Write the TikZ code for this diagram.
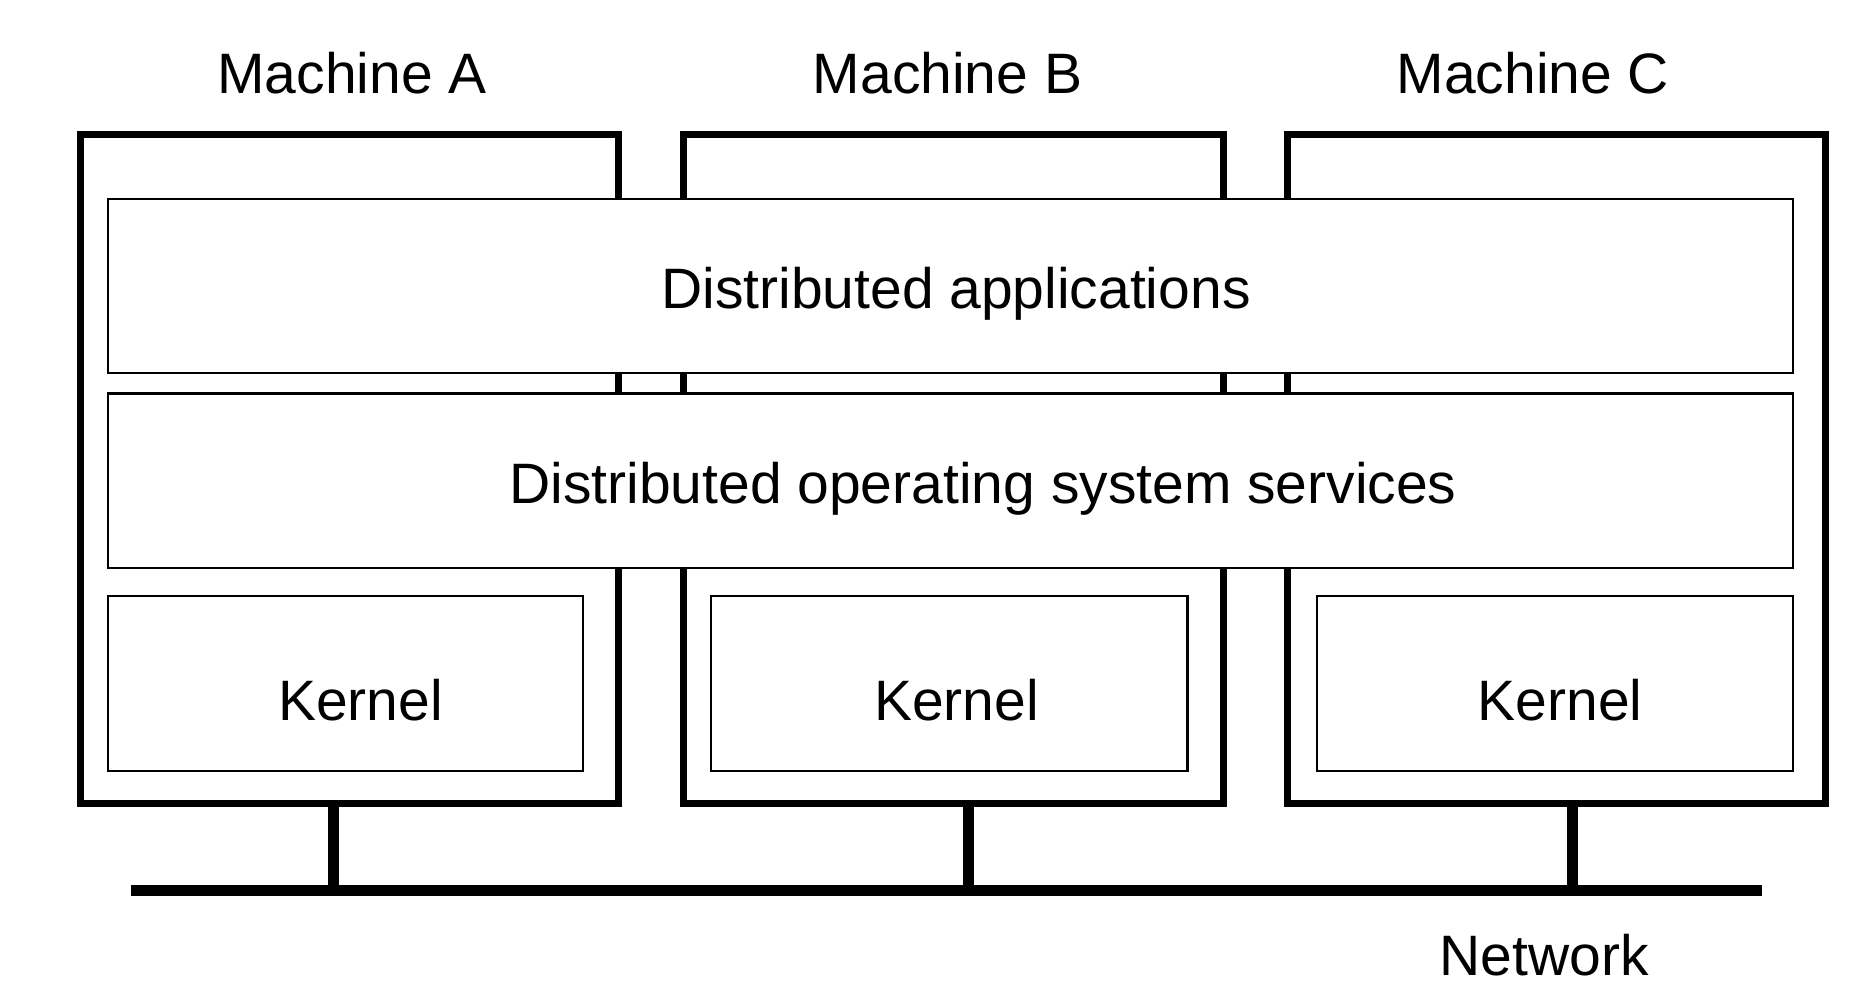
\documentclass[tikz,border=0pt]{standalone}
\usepackage{fontspec}
\setmainfont{Liberation Sans}
\begin{document}
\begin{tikzpicture}[x=1pt,y=-1pt,
  machine/.style={draw=black,line width=7pt,inner sep=0pt,outer sep=0pt},
  layer/.style={draw=black,fill=white,line width=2.5pt,inner sep=0pt,outer sep=0pt},
  lbl/.style={anchor=base,inner sep=0pt,font=\fontsize{57}{60}\selectfont},
  wire/.style={line width=11pt}]
\useasboundingbox[fill=white] (0,0) rectangle (1862,999);
% machines
\node[machine,minimum width=537.5pt,minimum height=669.5pt] (mA) at (349.25,468.75) {};
\node[machine,minimum width=540pt,minimum height=669.5pt] (mB) at (953,468.75) {};
\node[machine,minimum width=538pt,minimum height=669.5pt] (mC) at (1556,468.75) {};
% layers
\node[layer,minimum width=1685pt,minimum height=174pt] (apps) at (950.5,286) {};
\node[layer,minimum width=1685pt,minimum height=174.5pt] (os) at (950.5,480.75) {};
\node[layer,minimum width=475pt,minimum height=175pt] (kA) at (345.5,683.5) {};
\node[layer,minimum width=476.5pt,minimum height=175pt] (kB) at (949.25,683.5) {};
\node[layer,minimum width=476pt,minimum height=175pt] (kC) at (1555,683.5) {};
% texts
\node[lbl] (tA) at (352,93) {Machine A};
\node[lbl] (tB) at (947.5,93) {Machine B};
\node[lbl] (tC) at (1533,93) {Machine C};
\node[lbl] (tapps) at (956,308) {Distributed applications};
\node[lbl] (tos) at (983,503) {Distributed operating system services};
\node[lbl] (tkA) at (360.5,720) {Kernel};
\node[lbl] (tkB) at (956.5,720) {Kernel};
\node[lbl] (tkC) at (1560,720) {Kernel};
\node[lbl] (tnet) at (1544,975) {Network};
% network
\coordinate (nL) at (131,890.5);
\coordinate (nR) at (1762,890.5);
\draw[wire] (nL) -- (nR);
\coordinate (sA) at (333,803.5);
\coordinate (sB) at (968,803.5);
\coordinate (sC) at (1572.5,803.5);
\draw[wire] (sA) -- (sA |- nL);
\draw[wire] (sB) -- (sB |- nL);
\draw[wire] (sC) -- (sC |- nL);
\end{tikzpicture}
\end{document}
